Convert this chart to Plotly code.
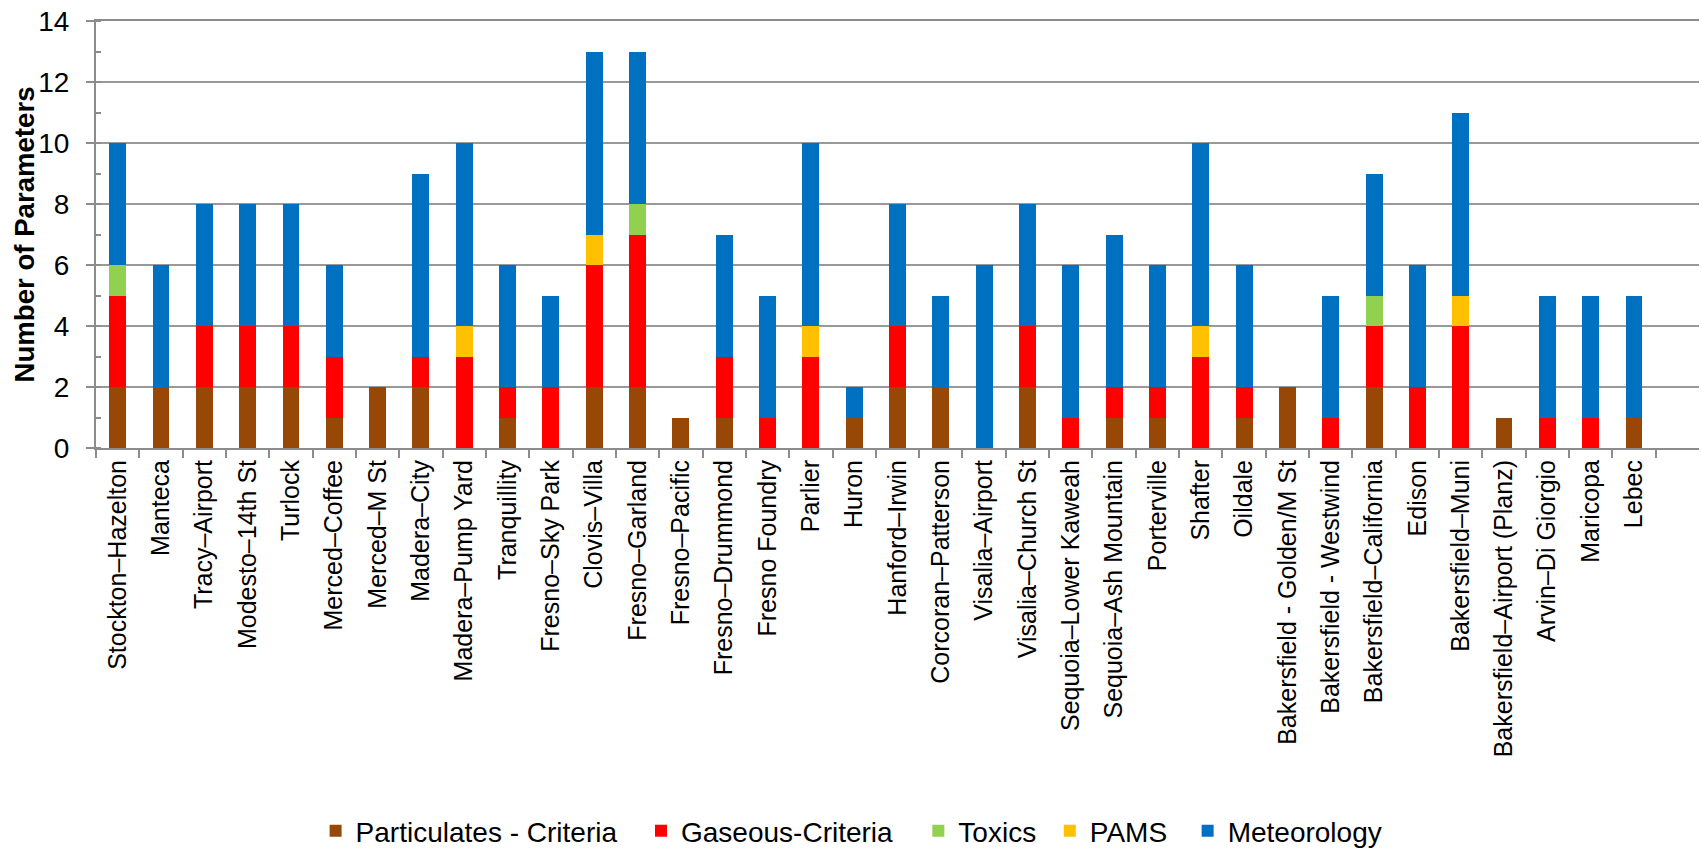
import plotly.graph_objects as go

sites = ["Stockton–Hazelton", "Manteca", "Tracy–Airport", "Modesto–14th St", "Turlock",
         "Merced–Coffee", "Merced–M St", "Madera–City", "Madera–Pump Yard", "Tranquillity",
         "Fresno–Sky Park", "Clovis–Villa", "Fresno–Garland", "Fresno–Pacific", "Fresno–Drummond",
         "Fresno Foundry", "Parlier", "Huron", "Hanford–Irwin", "Corcoran–Patterson",
         "Visalia–Airport", "Visalia–Church St", "Sequoia–Lower Kaweah", "Sequoia–Ash Mountain",
         "Porterville", "Shafter", "Oildale", "Bakersfield - Golden/M St", "Bakersfield - Westwind",
         "Bakersfield–California", "Edison", "Bakersfield–Muni", "Bakersfield–Airport (Planz)",
         "Arvin–Di Giorgio", "Maricopa", "Lebec"]

particulates = [2, 2, 2, 2, 2, 1, 2, 2, 0, 1, 0, 2, 2, 1, 1, 0, 0, 1, 2, 2, 0, 2, 0, 1, 1, 0, 1, 2, 0, 2, 0, 0, 1, 0, 0, 1]
gaseous      = [3, 0, 2, 2, 2, 2, 0, 1, 3, 1, 2, 4, 5, 0, 2, 1, 3, 0, 2, 0, 0, 2, 1, 1, 1, 3, 1, 0, 1, 2, 2, 4, 0, 1, 1, 0]
toxics       = [1, 0, 0, 0, 0, 0, 0, 0, 0, 0, 0, 0, 1, 0, 0, 0, 0, 0, 0, 0, 0, 0, 0, 0, 0, 0, 0, 0, 0, 1, 0, 0, 0, 0, 0, 0]
pams         = [0, 0, 0, 0, 0, 0, 0, 0, 1, 0, 0, 1, 0, 0, 0, 0, 1, 0, 0, 0, 0, 0, 0, 0, 0, 1, 0, 0, 0, 0, 0, 1, 0, 0, 0, 0]
meteorology  = [4, 4, 4, 4, 4, 3, 0, 6, 6, 4, 3, 6, 5, 0, 4, 4, 6, 1, 4, 3, 6, 4, 5, 5, 4, 6, 4, 0, 4, 4, 4, 6, 0, 4, 4, 4]

y_title = "Number of Parameters"

series = [
    ("Particulates - Criteria", particulates, "#974806"),
    ("Gaseous-Criteria", gaseous, "#FF0000"),
    ("Toxics", toxics, "#92D050"),
    ("PAMS", pams, "#FFC000"),
    ("Meteorology", meteorology, "#0070C0"),
]

# legend left positions (paper x) for each series' own legend
legend_x = [0.137, 0.340, 0.513, 0.595, 0.681]
legend_ids = ["legend", "legend2", "legend3", "legend4", "legend5"]

fig = go.Figure()
for (name, vals, color), lid in zip(series, legend_ids):
    fig.add_trace(go.Bar(x=sites, y=vals, name=name, legend=lid,
                         marker=dict(color=color, line=dict(width=0))))

font_family = "Liberation Sans, Arial, sans-serif"
legend_layout = {}
for lid, lx in zip(legend_ids, legend_x):
    legend_layout[lid] = dict(orientation="h", x=lx, xanchor="left", y=-0.897, yanchor="middle",
                              font=dict(size=28), bgcolor="rgba(0,0,0,0)", borderwidth=0)

fig.update_layout(
    barmode="stack",
    bargap=0.61,
    width=1702, height=849,
    margin=dict(l=96, r=3, t=21, b=401, autoexpand=False),
    paper_bgcolor="white", plot_bgcolor="white",
    font=dict(family=font_family, color="black", size=26),
    showlegend=True,
    **legend_layout,
)
fig.update_xaxes(
    type="category", range=[-0.5, 36.5], automargin=False,
    tickangle=-90, tickfont=dict(size=25),
    showline=True, linecolor="#8c8c8c", linewidth=2, mirror=True,
    ticks="outside", tickson="boundaries", ticklen=8, tickcolor="#8c8c8c", tickwidth=2,
    showgrid=False,
)
fig.update_yaxes(
    range=[0, 14], dtick=2, tickfont=dict(size=28), automargin=False,
    ticklabeloverflow="allow",
    showline=True, linecolor="#8c8c8c", linewidth=2,
    ticks="outside", ticklen=8, tickcolor="#8c8c8c", tickwidth=2,
    showgrid=True, gridcolor="#999999", gridwidth=2,
    zeroline=False,
    minor=dict(dtick=1, ticks="inside", ticklen=5, tickcolor="#8c8c8c", tickwidth=2, showgrid=False),
    ticklabelstandoff=11,
)

# y-axis title as a rotated annotation, placed left of the tick labels
fig.add_annotation(text="<b>" + y_title + "</b>", textangle=-90,
                   xref="paper", yref="paper", x=-0.0443, y=0.5,
                   xanchor="center", yanchor="middle", showarrow=False,
                   font=dict(size=27.6, color="black", family=font_family))

# remove the default page margin so the figure sits at the window's top-left corner
fig.write_html("out.html", config={"displayModeBar": False},
               post_script="document.body.style.margin='0';")
